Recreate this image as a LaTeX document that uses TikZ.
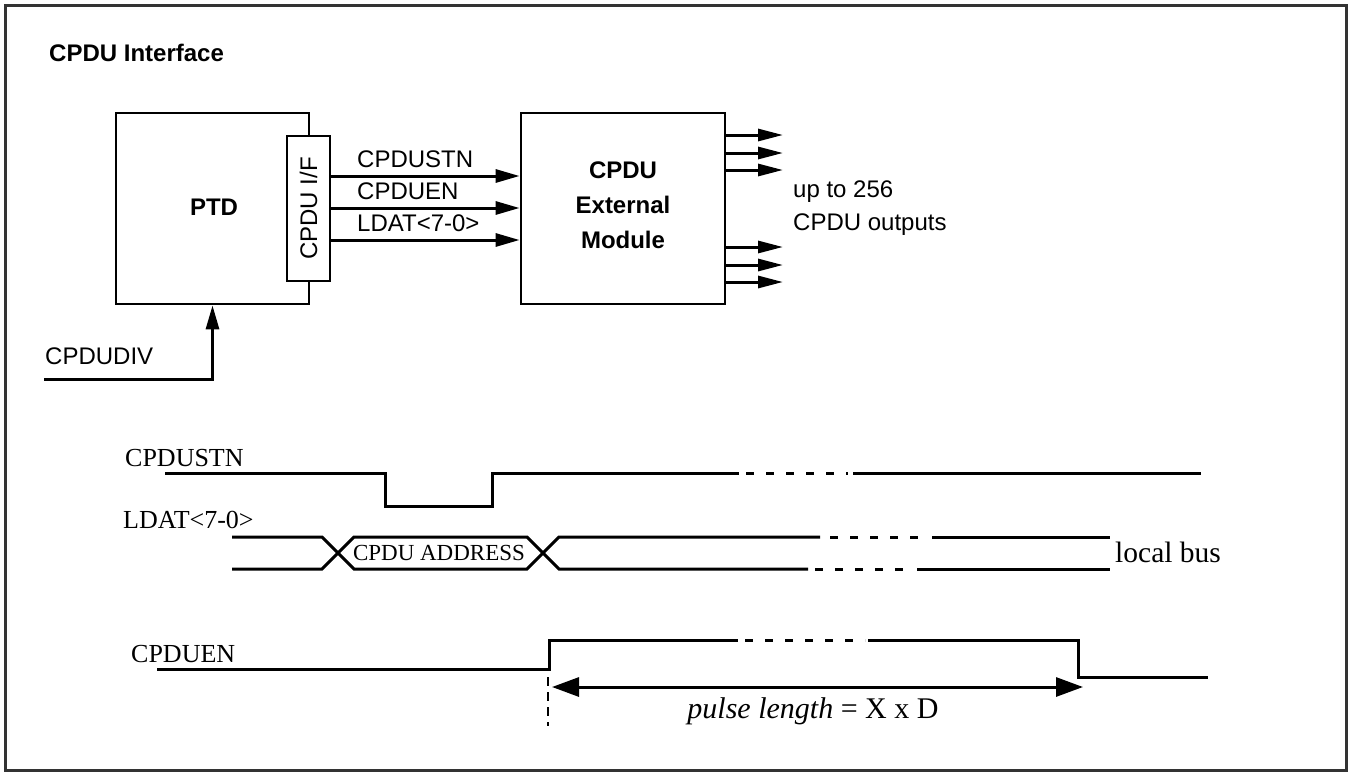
\documentclass[tikz,border=0pt]{standalone}
\usepackage{fontspec}
\setmainfont{Liberation Serif}
\setsansfont{Liberation Sans}
\usetikzlibrary{arrows.meta}
\begin{document}
\begin{tikzpicture}[x=1pt,y=-1pt,
  blk/.style={draw, line width=2.8pt, fill=white, inner sep=0pt},
  slbl/.style={font=\sffamily\fontsize{24}{28}\selectfont, inner sep=0pt},
  blbl/.style={font=\sffamily\bfseries\fontsize{24}{35}\selectfont, inner sep=0pt, align=center},
  sig/.style={line width=3pt, -{Triangle[length=24pt,width=13pt]}},
  outa/.style={line width=3pt, -{Triangle[length=25pt,width=12pt]}},
  tl/.style={line width=3pt, line join=miter},
  tdash/.style={line width=3pt, dash pattern=on 8pt off 12pt},
  tlbl/.style={font=\fontsize{26}{30}\selectfont, inner sep=0pt},
  pulsearr/.style={line width=3pt, {Triangle[length=27pt,width=19pt]}-{Triangle[length=27pt,width=19pt]}}
]
\useasboundingbox (0,0) rectangle (1350,772);
\draw[line width=2.8pt, black!80] (5.5,5.5) rectangle (1346.5,770.5);

% title
\node[slbl, font=\sffamily\bfseries\fontsize{24}{28}\selectfont, anchor=west] (title) at (49,53) {CPDU Interface};

% blocks
\node[blk, minimum width=193pt, minimum height=191pt] (ptd) at (212.5,208.5) {};
\node[blbl] (ptdt) at (214,207) {PTD};
\node[blk, minimum width=43pt, minimum height=145pt] (ifb) at (308.5,208.5) {};
\node[slbl, rotate=90] (ift) at (308.5,208.5) {CPDU I/F};
\node[blk, minimum width=204pt, minimum height=191pt] (mod) at (623,208.5) {};
\node[blbl] (modt) at (623,205) {CPDU\\External\\Module};

% interface signals
\draw[sig] (ifb.east |- 0,176) -- (mod.west |- 0,176);
\draw[sig] (ifb.east |- 0,208) -- (mod.west |- 0,208);
\draw[sig] (ifb.east |- 0,240) -- (mod.west |- 0,240);
\node[slbl, anchor=west] (s1) at (357,159) {CPDUSTN};
\node[slbl, anchor=west] (s2) at (357,191) {CPDUEN};
\node[slbl, anchor=west] (s3) at (357,223) {LDAT<7-0>};

% outputs
\foreach \i/\yy in {1/135,2/153,3/170,4/247,5/265,6/282}{
  \coordinate (o\i) at (783,\yy);
  \draw[outa] (mod.east |- o\i) -- (o\i);
}
\node[slbl, anchor=west, align=left, font=\sffamily\fontsize{24}{33}\selectfont] (outs) at (793,208.5) {up to 256\\CPDU outputs};

% CPDUDIV
\node[slbl, anchor=west] (divt) at (45,356) {CPDUDIV};
\coordinate (divs) at (44,379);
\draw[sig] (divs) -| (ptd.south);

% ---- timing diagram ----
\node[tlbl, anchor=west] (tstn) at (125,458) {CPDUSTN};
\draw[tl] (165,473) -- (385,473) -- (385,506) -- (492,506) -- (492,473) -- (739,473);
\draw[tdash] (746,473) -- (848,473);
\draw[tl] (853,473) -- (1201,473);

\node[tlbl, anchor=west] (tldat) at (123,520) {LDAT<7-0>};
\draw[tl] (232,537) -- (322,537) -- (354,569) -- (527,569) -- (559,537) -- (820,537);
\draw[tl] (232,569) -- (322,569) -- (354,537) -- (527,537) -- (559,569) -- (808,569);
\draw[tdash] (830,537) -- (926,537);
\draw[tdash] (815,569) -- (911,569);
\draw[tl] (932,537) -- (1110,537);
\draw[tl] (917,569) -- (1110,569);
\node[inner sep=0pt, font=\fontsize{23}{26}\selectfont] (addr) at (439,553) {CPDU ADDRESS};
\node[tlbl, anchor=west, font=\fontsize{29.5}{32}\selectfont] (lbus) at (1115,552) {local bus};

\node[tlbl, anchor=west] (ten) at (131,654) {CPDUEN};
\draw[tl] (157,669) -- (549,669) -- (549,640) -- (738,640);
\draw[tdash] (745,640) -- (865,640);
\draw[tl] (868,640) -- (1078,640) -- (1078,677) -- (1208,677);
\draw[line width=2.2pt, dash pattern=on 9pt off 6pt] (548,677) -- (548,726);
\coordinate (pa) at (552,687);
\coordinate (pb) at (1083,687);
\draw[pulsearr] (pa) -- (pb);
\node[inner sep=0pt, font=\fontsize{30}{33}\selectfont] (plen) at (813,711) {\textit{pulse length} = X x D};
\end{tikzpicture}
\end{document}
